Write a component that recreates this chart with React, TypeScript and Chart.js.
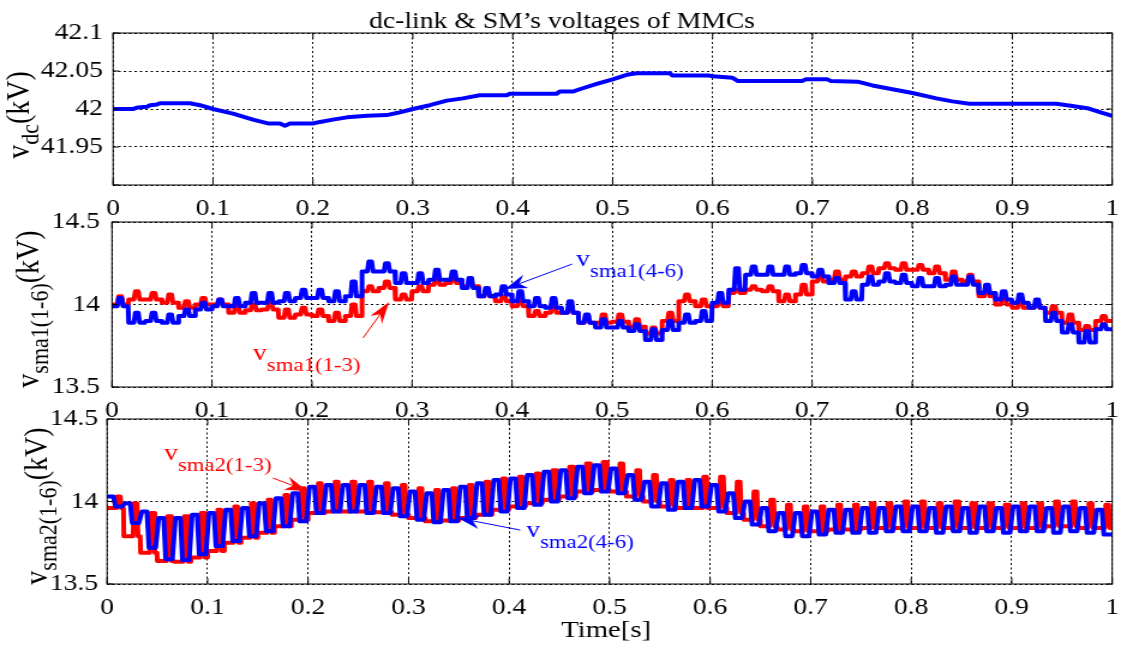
import React, { useEffect, useRef } from 'react';
import { Chart, registerables } from 'chart.js';

Chart.register(...registerables);

// Page size, and the narrower drawing buffer that CSS widens to the page width
// (this gives the wide-set serif lettering of the figure).
const PAGE_W = 1127;
const PAGE_H = 648;
const BUFFER_W = 939;
const SX = PAGE_W / BUFFER_W;

const SERIF = '"Liberation Serif", "Times New Roman", serif';
const BLUE = '#0000ff';
const RED = '#ff0000';

// ---------------- dc-link voltage (kV) ----------------
const vdcTime = [
  0, 0.02, 0.025, 0.034, 0.037, 0.044, 0.047, 0.077, 0.087, 0.1,
  0.12, 0.14, 0.155, 0.167, 0.172, 0.177, 0.2, 0.207, 0.22, 0.234,
  0.254, 0.274, 0.285, 0.3, 0.317, 0.334, 0.35, 0.367, 0.394, 0.397,
  0.444, 0.447, 0.46, 0.467, 0.484, 0.5, 0.514, 0.524, 0.557, 0.56,
  0.597, 0.6, 0.62, 0.625, 0.69, 0.693, 0.715, 0.718, 0.745, 0.76,
  0.78, 0.8, 0.824, 0.84, 0.857, 0.944, 0.96, 0.975, 0.99, 1.0,
];
const vdcKV = [
  42.0, 42.0, 42.002, 42.003, 42.005, 42.006, 42.0075, 42.0075, 42.005, 42.0,
  41.994, 41.986, 41.981, 41.981, 41.978, 41.981, 41.981, 41.983, 41.986, 41.989,
  41.991, 41.992, 41.995, 42.0, 42.005, 42.011, 42.014, 42.018, 42.018, 42.02,
  42.02, 42.023, 42.023, 42.026, 42.033, 42.039, 42.045, 42.047, 42.047, 42.044,
  42.044, 42.043, 42.041, 42.037, 42.037, 42.039, 42.039, 42.037, 42.036, 42.031,
  42.026, 42.021, 42.014, 42.01, 42.007, 42.007, 42.004, 42.001, 41.995, 41.991,
];

// Ripple frequency of the SM capacitor voltages; each array below holds one value per cycle.
const RIPPLE_HZ = 60;

// ---------------- SM voltages, arm a1 (kV) ----------------
const sma1BlueBase = [
  13.99, 13.89, 13.9, 13.89, 13.93, 13.97, 13.99, 13.99, 14.01, 14.01,
  14.02, 14.04, 14.04, 14.02, 14.05, 14.2, 14.2, 14.13, 14.13, 14.15,
  14.15, 14.1, 14.05, 14.06, 14.02, 13.99, 13.98, 13.95, 13.89, 13.86,
  13.86, 13.84, 13.785, 13.845, 13.89, 13.9, 14.01, 14.09, 14.18, 14.18,
  14.18, 14.19, 14.17, 14.13, 14.03, 14.12, 14.14, 14.13, 14.11, 14.11,
  14.12, 14.12, 14.07, 14.03, 14.01, 13.98, 13.9, 13.83, 13.77, 13.85,
];
const sma1BlueBump = [
  14.04, 13.95, 13.95, 13.94, 13.97, 14.01, 14.03, 14.04, 14.07, 14.07,
  14.07, 14.09, 14.09, 14.08, 14.14, 14.26, 14.25, 14.19, 14.19, 14.21,
  14.2, 14.16, 14.1, 14.11, 14.08, 14.04, 14.04, 14.02, 13.94, 13.91,
  13.9, 13.88, 13.85, 13.9, 13.94, 13.96, 14.07, 14.22, 14.23, 14.23,
  14.23, 14.24, 14.21, 14.16, 14.08, 14.17, 14.19, 14.18, 14.16, 14.16,
  14.17, 14.17, 14.12, 14.08, 14.06, 14.03, 13.95, 13.88, 13.84, 13.88,
];
const sma1RedBase = [
  14.0, 14.03, 14.03, 14.01, 13.98, 14.0, 14.0, 13.95, 13.965, 13.97,
  13.92, 13.94, 13.93, 13.9, 13.93, 14.08, 14.1, 14.03, 14.08, 14.12,
  14.13, 14.11, 14.05, 14.02, 13.99, 13.93, 13.95, 13.95, 13.89, 13.89,
  13.895, 13.865, 13.825, 13.9, 14.02, 13.99, 13.99, 14.07, 14.09, 14.08,
  14.02, 14.06, 14.14, 14.15, 14.17, 14.19, 14.22, 14.21, 14.21, 14.19,
  14.15, 14.14, 14.05, 14.0, 13.98, 13.98, 13.95, 13.89, 13.845, 13.9,
];
const sma1RedBump = [
  14.05, 14.08, 14.07, 14.06, 14.02, 14.04, 14.03, 13.99, 14.0, 14.01,
  13.97, 13.98, 13.97, 13.95, 14.0, 14.11, 14.14, 14.06, 14.11, 14.15,
  14.16, 14.13, 14.08, 14.05, 14.02, 13.96, 13.99, 13.99, 13.93, 13.94,
  13.94, 13.91, 13.86, 13.95, 14.06, 14.03, 14.02, 14.09, 14.11, 14.11,
  14.06, 14.12, 14.17, 14.2, 14.2, 14.23, 14.25, 14.25, 14.24, 14.23,
  14.2, 14.18, 14.08, 14.04, 14.02, 14.01, 13.99, 13.94, 13.87, 13.93,
];

// ---------------- SM voltages, arm a2 (kV) ----------------
const sma2BlueHigh = [
  14.03, 13.99, 13.94, 13.9, 13.9, 13.92, 13.93, 13.95, 13.96, 13.99,
  14.02, 14.05, 14.09, 14.1, 14.1, 14.1, 14.09, 14.08, 14.06, 14.05,
  14.07, 14.09, 14.11, 14.13, 14.14, 14.16, 14.18, 14.19, 14.21, 14.22,
  14.2, 14.16, 14.12, 14.11, 14.12, 14.13, 14.1, 14.05, 14.0, 13.96,
  13.93, 13.93, 13.94, 13.95, 13.95, 13.96, 13.96, 13.97, 13.97, 13.96,
  13.97, 13.96, 13.97, 13.96, 13.97, 13.97, 13.96, 13.97, 13.96, 13.95,
];
const sma2BlueLow = [
  13.97, 13.87, 13.72, 13.65, 13.645, 13.68, 13.73, 13.76, 13.79, 13.82,
  13.85, 13.88, 13.93, 13.94, 13.94, 13.93, 13.93, 13.91, 13.89, 13.875,
  13.88, 13.9, 13.92, 13.94, 13.96, 13.98, 14.0, 14.02, 14.05, 14.06,
  14.05, 14.01, 13.97, 13.95, 13.96, 13.97, 13.94, 13.9, 13.86, 13.82,
  13.79, 13.79, 13.8, 13.81, 13.81, 13.81, 13.82, 13.82, 13.82, 13.81,
  13.82, 13.81, 13.82, 13.81, 13.82, 13.82, 13.81, 13.82, 13.81, 13.8,
];
const sma2RedPeak = [
  14.03, 13.99, 13.93, 13.91, 13.91, 13.93, 13.95, 13.97, 13.99, 14.01,
  14.04, 14.08, 14.11, 14.12, 14.12, 14.12, 14.11, 14.1, 14.08, 14.07,
  14.08, 14.1, 14.12, 14.14, 14.15, 14.17, 14.19, 14.21, 14.23, 14.24,
  14.23, 14.19, 14.16, 14.13, 14.13, 14.15, 14.15, 14.12, 14.06, 14.01,
  13.98, 13.97, 13.97, 13.98, 13.98, 13.99, 13.99, 14.0, 14.0, 13.99,
  14.0, 13.99, 13.99, 13.98, 13.99, 13.99, 14.0, 14.0, 13.99, 13.98,
];
const sma2RedBase = [
  13.96, 13.79, 13.69, 13.64, 13.635, 13.66, 13.7, 13.75, 13.78, 13.81,
  13.85, 13.89, 13.93, 13.94, 13.94, 13.94, 13.935, 13.92, 13.9, 13.88,
  13.885, 13.9, 13.92, 13.95, 13.97, 13.99, 14.01, 14.03, 14.06, 14.07,
  14.06, 14.03, 14.0, 13.97, 13.96, 13.96, 13.96, 13.93, 13.89, 13.85,
  13.83, 13.82, 13.82, 13.83, 13.83, 13.84, 13.84, 13.84, 13.84, 13.84,
  13.84, 13.84, 13.84, 13.84, 13.84, 13.84, 13.85, 13.85, 13.84, 13.84,
];

type XY = { x: number; y: number };
type Part = { text: string; size: number; shift: number };

// ---------------- trace builders ----------------
function pairTrace(t: number[], v: number[]): XY[] {
  return t.map((x, i) => ({ x, y: v[i] }));
}

// Staircase with one small hump per cycle.
function humpTrace(base: number[], bump: number[]): XY[] {
  const p = 1 / RIPPLE_HZ;
  const pts: XY[] = [];
  base.forEach((lo, k) => {
    const t0 = k * p;
    const hi = bump[k];
    pts.push(
      { x: t0, y: lo },
      { x: t0 + 0.32 * p, y: lo },
      { x: t0 + 0.4 * p, y: hi },
      { x: t0 + 0.58 * p, y: hi },
      { x: t0 + 0.66 * p, y: lo },
      { x: t0 + 0.97 * p, y: lo },
    );
  });
  return pts;
}

// Rounded square ripple: short high plateau, short low plateau.
function squareTrace(high: number[], low: number[]): XY[] {
  const p = 1 / RIPPLE_HZ;
  const pts: XY[] = [];
  high.forEach((hi, k) => {
    const t0 = k * p;
    pts.push(
      { x: t0 + 0.08 * p, y: hi },
      { x: t0 + 0.38 * p, y: hi },
      { x: t0 + 0.5 * p, y: low[k] },
      { x: t0 + 0.9 * p, y: low[k] },
    );
  });
  return pts;
}

// Narrow spike on top of a base level, once per cycle.
function spikeTrace(peak: number[], base: number[]): XY[] {
  const p = 1 / RIPPLE_HZ;
  const pts: XY[] = [];
  peak.forEach((hi, k) => {
    const t0 = k * p;
    const lo = base[k];
    pts.push(
      { x: t0, y: lo },
      { x: t0 + 0.55 * p, y: lo },
      { x: t0 + 0.61 * p, y: hi },
      { x: t0 + 0.79 * p, y: hi },
      { x: t0 + 0.85 * p, y: lo },
      { x: t0 + 0.98 * p, y: lo },
    );
  });
  return pts;
}

// ---------------- drawing helpers ----------------
const fontOf = (size: number) => `${size}px ${SERIF}`;

function richWidth(ctx: CanvasRenderingContext2D, parts: Part[]) {
  let w = 0;
  for (const p of parts) {
    ctx.font = fontOf(p.size);
    w += ctx.measureText(p.text).width;
  }
  return w;
}

function drawRich(ctx: CanvasRenderingContext2D, parts: Part[], x: number, y: number) {
  let cx = x;
  ctx.textAlign = 'left';
  ctx.textBaseline = 'alphabetic';
  for (const p of parts) {
    ctx.font = fontOf(p.size);
    ctx.fillText(p.text, cx, y + p.shift);
    cx += ctx.measureText(p.text).width;
  }
}

// Arrow with a filled, notched head; geometry is worked out in page pixels
// so the head keeps its shape after the horizontal widening.
function drawArrow(ctx: CanvasRenderingContext2D, x1: number, y1: number, x2: number, y2: number, color: string) {
  const X1 = x1 * SX;
  const X2 = x2 * SX;
  const dx = X2 - X1;
  const dy = y2 - y1;
  const len = Math.hypot(dx, dy) || 1;
  const ux = dx / len;
  const uy = dy / len;
  const L = 22;
  const W = 7;
  const N = 15;
  const bx = X2 - ux * L;
  const by = y2 - uy * L;
  const nx = X2 - ux * N;
  const ny = y2 - uy * N;
  const px = -uy;
  const py = ux;
  ctx.save();
  ctx.strokeStyle = color;
  ctx.fillStyle = color;
  ctx.lineWidth = 1;
  ctx.beginPath();
  ctx.moveTo(x1, y1);
  ctx.lineTo(nx / SX, ny);
  ctx.stroke();
  ctx.beginPath();
  ctx.moveTo(X2 / SX, y2);
  ctx.lineTo((bx + px * W) / SX, by + py * W);
  ctx.lineTo(nx / SX, ny);
  ctx.lineTo((bx - px * W) / SX, by - py * W);
  ctx.closePath();
  ctx.fill();
  ctx.restore();
}

type Note = {
  sub: string;
  color: string;
  at: [number, number];
  from: [number, number];
  tip: [number, number];
};

type PanelSpec = {
  area: { left: number; top: number; right: number; bottom: number };
  yMin: number;
  yMax: number;
  yStep: number;
  hideLowest: boolean;
  yLabelGap: number;
  yTitle: Part[];
  yTitleX: number;
  yTitleY: number;
  series: { points: XY[]; color: string }[];
  notes: Note[];
  extra?: (ctx: CanvasRenderingContext2D) => void;
};

// Height reserved under each plot for its time tick labels.
const X_AXIS_BAND = 44;
const TICK_FONT = 23;

function buildPanel(canvas: HTMLCanvasElement, spec: PanelSpec) {
  const { area } = spec;
  const framePlugin = {
    id: 'frame',
    afterDraw(chart: any) {
      const { ctx, chartArea: a, scales } = chart;
      ctx.save();
      ctx.strokeStyle = '#000';
      ctx.lineWidth = 1;
      ctx.setLineDash([]);
      ctx.strokeRect(a.left, a.top, a.right - a.left, a.bottom - a.top);
      ctx.beginPath();
      for (const t of scales.x.ticks) {
        const px = scales.x.getPixelForValue(t.value);
        ctx.moveTo(px, a.bottom);
        ctx.lineTo(px, a.bottom - 6);
        ctx.moveTo(px, a.top);
        ctx.lineTo(px, a.top + 6);
      }
      for (const t of scales.y.ticks) {
        const py = scales.y.getPixelForValue(t.value);
        ctx.moveTo(a.left, py);
        ctx.lineTo(a.left + 5, py);
        ctx.moveTo(a.right, py);
        ctx.lineTo(a.right - 5, py);
      }
      ctx.stroke();

      // rotated y title with subscript
      ctx.fillStyle = '#000';
      ctx.save();
      ctx.translate(spec.yTitleX, spec.yTitleY);
      ctx.rotate(-Math.PI / 2);
      const w = richWidth(ctx, spec.yTitle);
      drawRich(ctx, spec.yTitle, -w / 2, 0);
      ctx.restore();

      // series callouts
      for (const n of spec.notes) {
        const tx = scales.x.getPixelForValue(n.at[0]);
        const ty = scales.y.getPixelForValue(n.at[1]);
        ctx.fillStyle = n.color;
        drawRich(ctx, [
          { text: 'v', size: 23, shift: 0 },
          { text: n.sub, size: 19, shift: 11 },
        ], tx, ty);
        drawArrow(
          ctx,
          scales.x.getPixelForValue(n.from[0]),
          scales.y.getPixelForValue(n.from[1]),
          scales.x.getPixelForValue(n.tip[0]),
          scales.y.getPixelForValue(n.tip[1]),
          n.color,
        );
      }
      if (spec.extra) spec.extra(ctx);
      ctx.restore();
    },
  };

  const gridStyle = {
    color: '#000',
    lineWidth: 1,
    drawTicks: false,
    borderDash: [2, 2.5],
  };

  return new Chart(canvas, {
    type: 'line',
    data: {
      datasets: spec.series.map((s) => ({
        data: s.points,
        borderColor: s.color,
        backgroundColor: s.color,
        borderWidth: 4,
        pointRadius: 0,
        tension: 0,
        fill: false,
        borderJoinStyle: 'round',
        borderCapStyle: 'round',
      })),
    },
    options: {
      animation: false,
      responsive: false,
      events: [],
      layout: {
        padding: {
          left: 0,
          top: area.top,
          right: BUFFER_W - area.right,
          bottom: PAGE_H - area.bottom - X_AXIS_BAND,
        },
      },
      plugins: {
        legend: { display: false },
        tooltip: { enabled: false },
        title: { display: false },
      },
      scales: {
        x: {
          type: 'linear',
          min: 0,
          max: 1,
          afterFit: (axis: any) => {
            axis.height = X_AXIS_BAND;
            axis.paddingLeft = 0;
            axis.paddingRight = 0;
            axis.paddingTop = 0;
            axis.paddingBottom = 0;
          },
          grid: gridStyle,
          border: { display: false, dash: [2, 2.5] },
          ticks: {
            stepSize: 0.1,
            autoSkip: false,
            maxRotation: 0,
            padding: 10,
            color: '#000',
            font: { family: SERIF, size: TICK_FONT },
            callback: (v: any) => String(Number(Number(v).toFixed(1))),
          },
        },
        y: {
          type: 'linear',
          min: spec.yMin,
          max: spec.yMax,
          afterFit: (axis: any) => {
            axis.width = area.left;
            axis.paddingLeft = 0;
            axis.paddingRight = 0;
            axis.paddingTop = 0;
            axis.paddingBottom = 0;
          },
          grid: gridStyle,
          border: { display: false, dash: [2, 2.5] },
          ticks: {
            stepSize: spec.yStep,
            autoSkip: false,
            padding: spec.yLabelGap,
            color: '#000',
            font: { family: SERIF, size: TICK_FONT },
            callback: (v: any) => {
              const n = Number(v);
              if (spec.hideLowest && Math.abs(n - spec.yMin) < 1e-9) return '';
              return String(Number(n.toFixed(2)));
            },
          },
        },
      },
    },
    plugins: [framePlugin],
  } as any);
}

const RIGHT = 926.7;
const Y_TITLE_MAIN = 28;
const Y_TITLE_SUB = 22;

export default function App() {
  const c1 = useRef<HTMLCanvasElement>(null);
  const c2 = useRef<HTMLCanvasElement>(null);
  const c3 = useRef<HTMLCanvasElement>(null);

  useEffect(() => {
    const charts: Chart[] = [];
    if (c1.current) {
      charts.push(
        buildPanel(c1.current, {
          area: { left: 94.2, top: 33, right: RIGHT, bottom: 185 },
          yMin: 41.9,
          yMax: 42.1,
          yStep: 0.05,
          hideLowest: true,
          yLabelGap: 8.4,
          yTitle: [
            { text: 'v', size: Y_TITLE_MAIN, shift: 0 },
            { text: 'dc', size: Y_TITLE_SUB, shift: 8 },
            { text: '(kV)', size: Y_TITLE_MAIN, shift: 0 },
          ],
          yTitleX: 24,
          yTitleY: 115,
          series: [{ points: pairTrace(vdcTime, vdcKV), color: BLUE }],
          notes: [],
          extra: (ctx) => {
            ctx.fillStyle = '#000';
            ctx.font = fontOf(23);
            ctx.textAlign = 'center';
            ctx.textBaseline = 'alphabetic';
            ctx.fillText('dc-link & SM\u2019s voltages of MMCs', 468.3, 27.5);
          },
        }),
      );
    }
    if (c2.current) {
      charts.push(
        buildPanel(c2.current, {
          area: { left: 93.3, top: 222, right: RIGHT, bottom: 387 },
          yMin: 13.5,
          yMax: 14.5,
          yStep: 0.5,
          hideLowest: false,
          yLabelGap: 10,
          yTitle: [
            { text: 'v', size: Y_TITLE_MAIN, shift: 0 },
            { text: 'sma1(1-6)', size: Y_TITLE_SUB, shift: 8 },
            { text: '(kV)', size: Y_TITLE_MAIN, shift: 0 },
          ],
          yTitleX: 31.7,
          yTitleY: 309,
          series: [
            { points: humpTrace(sma1BlueBase, sma1BlueBump), color: BLUE },
            { points: humpTrace(sma1RedBase, sma1RedBump), color: RED },
          ],
          notes: [
            { sub: 'sma1(4-6)', color: BLUE, at: [0.464, 14.233], from: [0.46, 14.245], tip: [0.393, 14.094] },
            { sub: 'sma1(1-3)', color: RED, at: [0.141, 13.664], from: [0.251, 13.797], tip: [0.277, 14.015] },
          ],
        }),
      );
    }
    if (c3.current) {
      charts.push(
        buildPanel(c3.current, {
          area: { left: 89.2, top: 419, right: RIGHT, bottom: 584 },
          yMin: 13.5,
          yMax: 14.5,
          yStep: 0.5,
          hideLowest: false,
          yLabelGap: 7.5,
          yTitle: [
            { text: 'v', size: Y_TITLE_MAIN, shift: 0 },
            { text: 'sma2(1-6)', size: Y_TITLE_SUB, shift: 8 },
            { text: '(kV)', size: Y_TITLE_MAIN, shift: 0 },
          ],
          yTitleX: 39,
          yTitleY: 506,
          series: [
            { points: squareTrace(sma2BlueHigh, sma2BlueLow), color: BLUE },
            { points: spikeTrace(sma2RedPeak, sma2RedBase), color: RED },
          ],
          notes: [
            { sub: 'sma2(1-3)', color: RED, at: [0.0567, 14.252], from: [0.165, 14.142], tip: [0.199, 14.064] },
            { sub: 'sma2(4-6)', color: BLUE, at: [0.417, 13.785], from: [0.411, 13.827], tip: [0.349, 13.9] },
          ],
          extra: (ctx) => {
            ctx.fillStyle = '#000';
            ctx.font = fontOf(24);
            ctx.textAlign = 'center';
            ctx.textBaseline = 'alphabetic';
            ctx.fillText('Time[s]', 505, 637);
          },
        }),
      );
    }
    return () => charts.forEach((c) => c.destroy());
  }, []);

  const canvasStyle: React.CSSProperties = {
    position: 'absolute',
    left: 0,
    top: 0,
    width: PAGE_W,
    height: PAGE_H,
  };

  return (
    <div
      style={{
        position: 'fixed',
        left: 0,
        top: 0,
        width: PAGE_W,
        height: PAGE_H,
        background: '#ffffff',
        overflow: 'hidden',
      }}
    >
      <canvas ref={c1} width={BUFFER_W} height={PAGE_H} style={canvasStyle} />
      <canvas ref={c2} width={BUFFER_W} height={PAGE_H} style={canvasStyle} />
      <canvas ref={c3} width={BUFFER_W} height={PAGE_H} style={canvasStyle} />
    </div>
  );
}
